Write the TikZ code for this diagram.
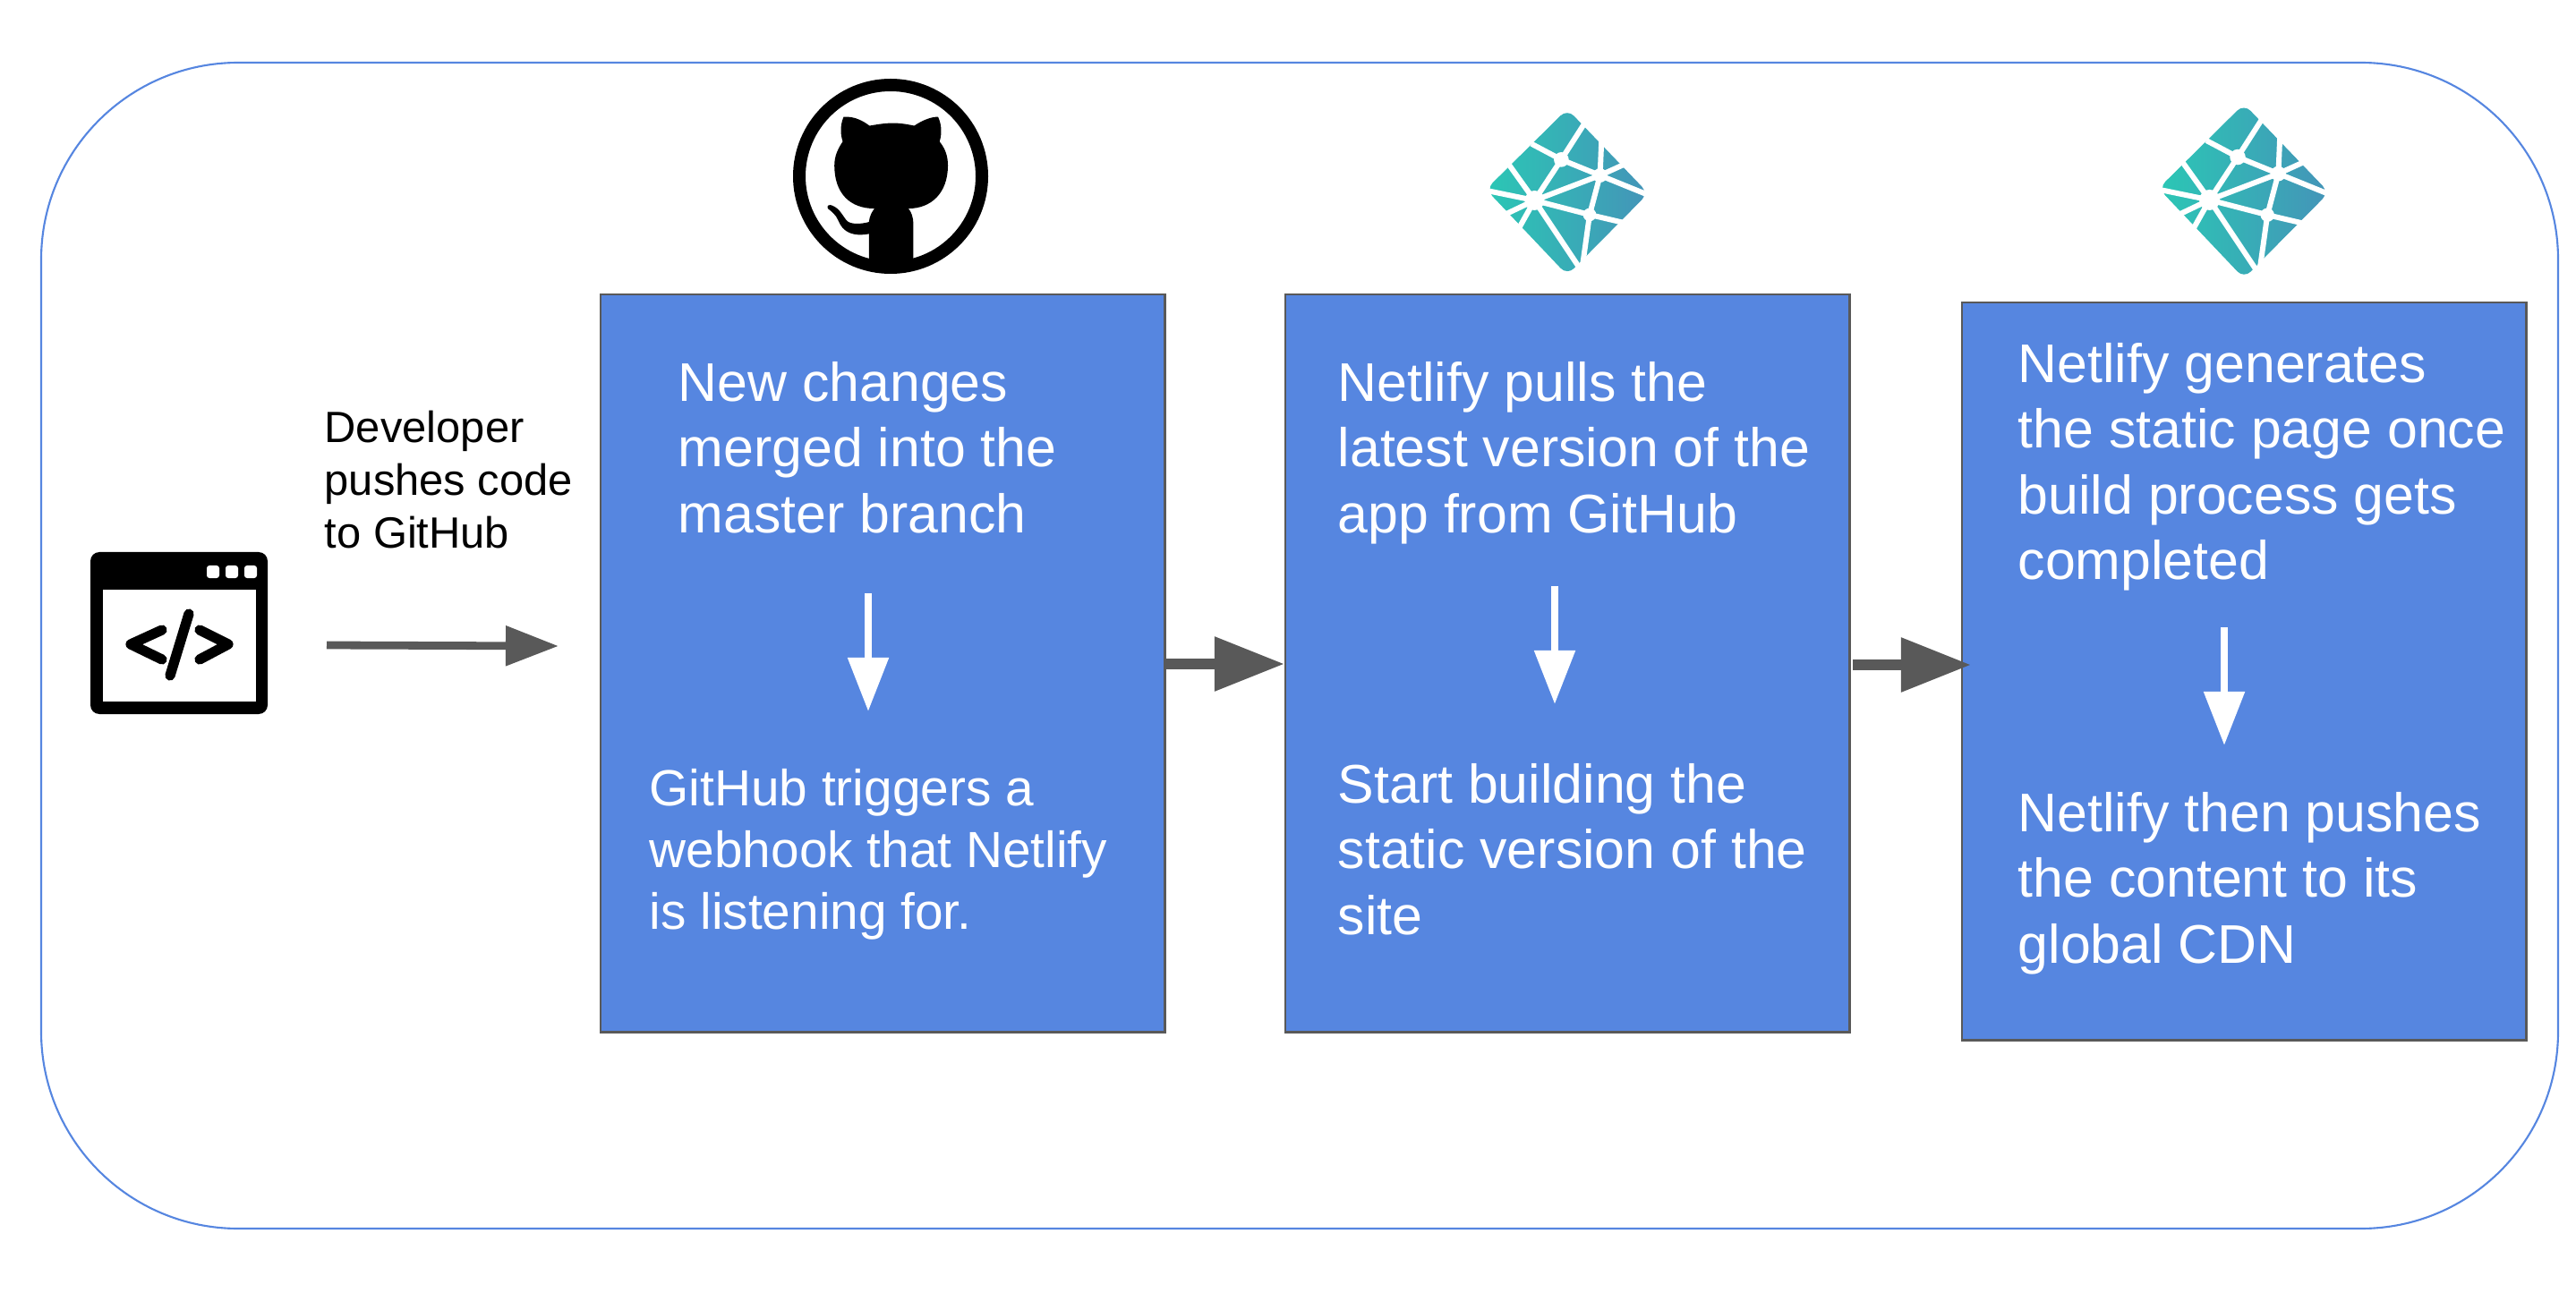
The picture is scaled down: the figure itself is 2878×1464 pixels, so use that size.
\documentclass[tikz,border=0pt]{standalone}
\usepackage{fontspec}
\setmainfont{Liberation Sans}
\usepackage{tikz}
\usetikzlibrary{positioning}
\usetikzlibrary{arrows.meta}
\definecolor{boxblue}{HTML}{5686E0}
\definecolor{linegrey}{HTML}{595959}
\definecolor{logoteal}{HTML}{2BC7B5}
\definecolor{logoblue}{HTML}{4494B8}

\tikzset{
  stepbox/.style={draw=linegrey, line width=0.7pt, fill=boxblue, minimum width=6.3cm, minimum height=8.24cm, anchor=north west, inner sep=0pt},
  boxtext/.style={anchor=north west, align=left, text=white, inner sep=0pt, font=\fontsize{17.3}{20.8}\selectfont},
  smalltext/.style={anchor=north west, align=left, text=white, inner sep=0pt, font=\fontsize{16.15}{19.5}\selectfont},
  greyarrow/.style={draw=linegrey, line width=3.4pt, -{Triangle[length=0.78cm, width=0.58cm, fill=linegrey]}},
  thinarrow/.style={draw=linegrey, line width=2.5pt, -{Triangle[length=0.59cm, width=0.43cm, fill=linegrey]}},
  whitearrow/.style={draw=white, line width=2.4pt, -{Triangle[length=0.6cm, width=0.44cm, fill=white]}},
  netlify/.pic={
    \begin{scope}[x=0.00333cm, y=-0.00333cm]
      \shade[left color=logoteal, right color=logoblue, rounded corners=3pt]
        (0,-280) -- (272,3) -- (0,278) -- (-273,-10) -- cycle;
      \draw[white, line width=1.7pt]
        (-20,-110) -- (60,-235)  (-20,-110) -- (-120,-163)
        (-20,-110) -- (-110,27)  (-20,-110) -- (110,-57)
        (110,-57) -- (-110,27)   (110,-57) -- (75,75)
        (-110,27) -- (75,75)     (-110,27) -- (-195,-92)
        (-110,27) -- (-280,-8)   (-110,27) -- (-215,77)
        (-110,27) -- (-165,125)  (-110,27) -- (42,255)
        (75,75) -- (52,240)      (75,75) -- (190,102)
        (110,-57) -- (280,12)    (110,-57) -- (200,-98)
        (110,-57) -- (115,-175);
      \fill[white] (-20,-110) circle (25) (110,-57) circle (24)
        (-110,27) circle (33) (75,75) circle (22);
    \end{scope}
  }
}

\begin{document}
\begin{tikzpicture}[x=0.01cm, y=-0.01cm]
  \useasboundingbox (0,0) rectangle (2878,1464);
  \draw[boxblue, line width=0.6pt, rounded corners=2.2cm] (46,70) rectangle (2858,1373);

  % window icon
  \fill[black, rounded corners=0.1cm] (101,617) rectangle (299,798);
  \fill[white] (115,659) rectangle (286,784);
  \foreach \dotx in {238,259,280} {
    \fill[white, rounded corners=0.03cm] (\dotx-7,632) rectangle (\dotx+7,646);
  }
  \draw[black, line width=3.2pt, line cap=round, line join=round]
    (181,704) -- (146,720) -- (181,737)
    (211,686) -- (190,755)
    (223,704) -- (255,720) -- (223,737);

  % github logo
  \draw[black, line width=14*0.2845pt] (995,197) circle (102);
  \begin{scope}[shift={(860,70)}, x=0.00333cm, y=-0.00333cm]
    \fill[black] (335,212) .. controls (400,200) and (430,200) .. (485,212)
      .. controls (510,195) and (540,182) .. (565,182)
      .. controls (578,210) and (578,240) .. (570,265)
      .. controls (590,290) and (598,315) .. (598,345)
      .. controls (598,440) and (540,490) .. (465,490)
      .. controls (475,500) and (482,520) .. (482,540)
      -- (482,670) -- (333,670) -- (333,575)
      .. controls (280,585) and (245,570) .. (230,530)
      .. controls (222,510) and (205,498) .. (195,490)
      .. controls (190,480) and (200,475) .. (210,480)
      .. controls (235,490) and (245,515) .. (258,530)
      .. controls (270,545) and (310,542) .. (333,535)
      .. controls (335,515) and (343,500) .. (352,490)
      .. controls (270,490) and (217,440) .. (217,345)
      .. controls (217,315) and (228,290) .. (245,265)
      .. controls (235,235) and (238,205) .. (248,182)
      .. controls (285,180) and (312,195) .. (335,212) -- cycle;
  \end{scope}

  % netlify logos
  \pic at (1751,215) {netlify};
  \pic[scale=1.05] at (2507,214) {netlify};

  % boxes
  \node[stepbox] (pushbox) at (670,328) {};
  \node[stepbox] (buildbox) at (1435,328) {};
  \node[stepbox] (deploybox) at (2191,337) {};

  % texts
  \node[anchor=north west, align=left, inner sep=0pt, font=\fontsize{13.9}{16.8}\selectfont] (devtext) at (362,458)
    {Developer\\pushes code\\to GitHub};
  \node[boxtext] (pushtop) at (757,404) {New changes\\merged into the\\master branch};
  \node[smalltext] (pushlow) at (725,859) {GitHub triggers a\\webhook that Netlify\\is listening for.};
  \node[boxtext] (buildtop) at (1494,404) {Netlify pulls the\\latest version of the\\app from GitHub};
  \node[boxtext] (buildlow) at (1494,853) {Start building the\\static version of the\\site};
  \node[boxtext] (deploytop) at (2254,383) {Netlify generates\\the static page once\\build process gets\\completed};
  \node[boxtext] (deploylow) at (2254,885) {Netlify then pushes\\the content to its\\global CDN};

  % arrows inside boxes
  \coordinate (pushfrom) at (970,663);
  \coordinate (pushto) at (970,795);
  \coordinate (buildfrom) at (1737,655);
  \coordinate (buildto) at (1737,787);
  \coordinate (deployfrom) at (2485,701);
  \coordinate (deployto) at (2485,833);
  \draw[whitearrow] (pushfrom) -- (pushto);
  \draw[whitearrow] (buildfrom) -- (buildto);
  \draw[whitearrow] (deployfrom) -- (deployto);

  % arrows between steps
  \coordinate (codestart) at (365,721);
  \coordinate (codeend) at (624,722);
  \coordinate (buildout) at (2070,743);
  \coordinate (deployin) at (2202,743);
  \draw[thinarrow] (codestart) -- (codeend);
  \draw[greyarrow] (pushbox.east |- 0,742) -- (buildbox.west |- 0,742);
  \draw[greyarrow] (buildout) -- (deployin);
\end{tikzpicture}
\end{document}
